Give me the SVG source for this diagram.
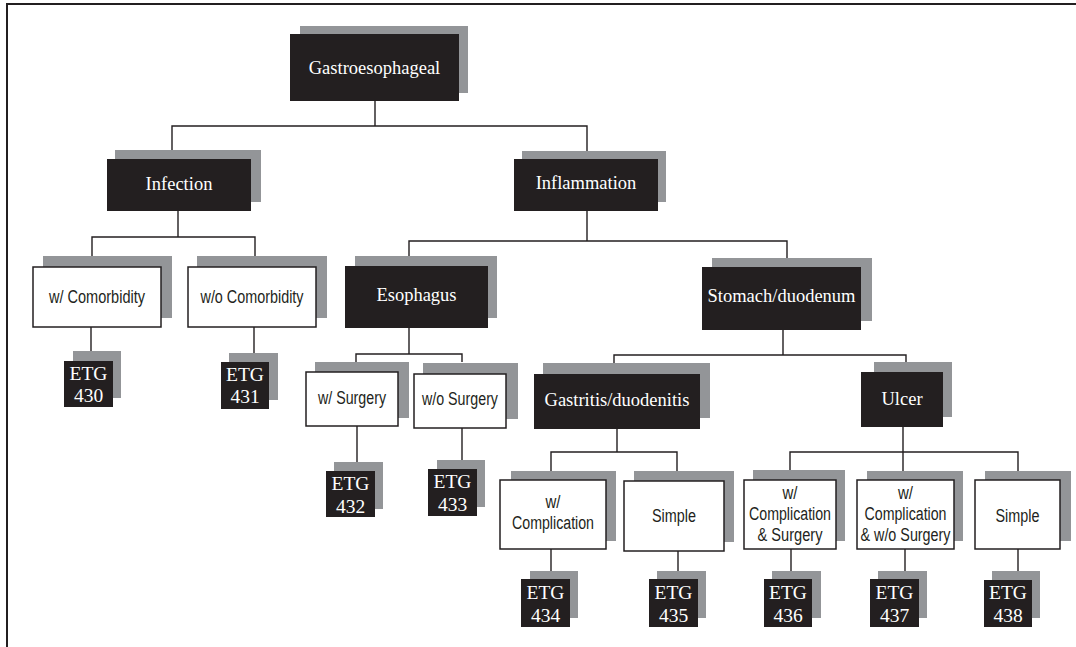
<svg xmlns="http://www.w3.org/2000/svg" width="1076" height="647" viewBox="0 0 1076 647">
<style>
.sh{fill:#939598}
.bk{fill:#231f20}
.wb{fill:#ffffff;stroke:#231f20;stroke-width:1.5}
.tb{font-family:"Liberation Serif","Times New Roman",serif;font-size:18.5px;fill:#ffffff;text-anchor:middle}
.te{font-family:"Liberation Serif","Times New Roman",serif;font-size:19.5px;fill:#ffffff;text-anchor:middle}
.tw{font-family:"Liberation Sans",Arial,sans-serif;font-size:18px;fill:#231f20;text-anchor:middle}
.cn{fill:none;stroke:#231f20;stroke-width:1.4}
</style>
<rect width="1076" height="647" fill="#ffffff"/>
<path d="M7,647 V4 H1076" fill="none" stroke="#231f20" stroke-width="2"/>
<g id="connectors" class="cn">
<path d="M375,101 V126 M172,150 V126 H587 V151"/>
<path d="M178,211 V237 M92,256 V237 H255 V256"/>
<path d="M91,327 V351"/>
<path d="M254,327 V353"/>
<path d="M587,211 V241 M409,256 V241 H787 V258"/>
<path d="M409,328 V354 M356,362 V354 H462 V362"/>
<path d="M357,426 V462"/>
<path d="M462,428 V460"/>
<path d="M783,330 V355 M614,363 V355 H906 V362"/>
<path d="M617,429 V452 M551,471 V452 H677 V471"/>
<path d="M551,549 V571"/>
<path d="M678,551 V571"/>
<path d="M903,427 V471 M790,470 V452 H1018 V471"/>
<path d="M791,549 V571"/>
<path d="M905,549 V571"/>
<path d="M1018,549 V571"/>
</g>
<g id="n-gastro"><rect class="sh" x="300" y="26" width="168" height="67"/><rect class="bk" x="290" y="34" width="169" height="67"/><text class="tb" x="374.5" y="74">Gastroesophageal</text></g>
<g id="n-infection"><rect class="sh" x="115" y="150" width="146" height="52"/><rect class="bk" x="107" y="159" width="144" height="52"/><text class="tb" x="179" y="190">Infection</text></g>
<g id="n-inflammation"><rect class="sh" x="522" y="151" width="144" height="51"/><rect class="bk" x="514" y="159" width="144" height="52"/><text class="tb" x="586" y="189">Inflammation</text></g>
<g id="n-wcomorb"><rect class="sh" x="43" y="256" width="129" height="62"/><rect class="wb" x="33" y="267" width="128" height="60"/><text class="tw" x="97" y="303" textLength="96" lengthAdjust="spacingAndGlyphs">w/ Comorbidity</text></g>
<g id="n-wocomorb"><rect class="sh" x="197" y="256" width="130" height="62"/><rect class="wb" x="188" y="267" width="128" height="60"/><text class="tw" x="252" y="303" textLength="103" lengthAdjust="spacingAndGlyphs">w/o Comorbidity</text></g>
<g id="n-etg430"><rect class="sh" x="73" y="351" width="48" height="47"/><rect class="bk" x="64" y="361" width="49" height="46"/><text class="te" x="88.5" y="380">ETG</text><text class="te" x="88.5" y="402">430</text></g>
<g id="n-etg431"><rect class="sh" x="229" y="353" width="49" height="47"/><rect class="bk" x="221" y="362" width="48" height="47"/><text class="te" x="245" y="381">ETG</text><text class="te" x="245" y="403">431</text></g>
<g id="n-esophagus"><rect class="sh" x="355" y="256" width="142" height="62"/><rect class="bk" x="345" y="266" width="143" height="62"/><text class="tb" x="416.5" y="301">Esophagus</text></g>
<g id="n-stomach"><rect class="sh" x="712" y="258" width="160" height="63"/><rect class="bk" x="702" y="267" width="159" height="63"/><text class="tb" x="781.5" y="302">Stomach/duodenum</text></g>
<g id="n-wsurg"><rect class="sh" x="315" y="362" width="94" height="56"/><rect class="wb" x="306" y="372" width="92" height="54"/><text class="tw" x="352" y="404" textLength="68" lengthAdjust="spacingAndGlyphs">w/ Surgery</text></g>
<g id="n-wosurg"><rect class="sh" x="423" y="363" width="95" height="56"/><rect class="wb" x="414" y="374" width="92" height="54"/><text class="tw" x="460" y="405" textLength="76" lengthAdjust="spacingAndGlyphs">w/o Surgery</text></g>
<g id="n-etg432"><rect class="sh" x="334" y="462" width="49" height="47"/><rect class="bk" x="326" y="471" width="49" height="46"/><text class="te" x="350.5" y="490">ETG</text><text class="te" x="350.5" y="513">432</text></g>
<g id="n-etg433"><rect class="sh" x="437" y="460" width="48" height="47"/><rect class="bk" x="428" y="469" width="49" height="47"/><text class="te" x="452.5" y="488">ETG</text><text class="te" x="452.5" y="511">433</text></g>
<g id="n-gastritis"><rect class="sh" x="543" y="363" width="167" height="55"/><rect class="bk" x="534" y="374" width="166" height="55"/><text class="tb" x="617" y="406">Gastritis/duodenitis</text></g>
<g id="n-ulcer"><rect class="sh" x="874" y="362" width="78" height="55"/><rect class="bk" x="861" y="372" width="82" height="55"/><text class="tb" x="902" y="405">Ulcer</text></g>
<g id="n-wcomp"><rect class="sh" x="511" y="471" width="105" height="70"/><rect class="wb" x="500" y="480" width="106" height="69"/><text class="tw" x="553" y="508" textLength="15" lengthAdjust="spacingAndGlyphs">w/</text><text class="tw" x="553" y="529" textLength="82" lengthAdjust="spacingAndGlyphs">Complication</text></g>
<g id="n-gsimple"><rect class="sh" x="634" y="471" width="100" height="71"/><rect class="wb" x="624" y="481" width="100" height="70"/><text class="tw" x="674" y="522" textLength="44" lengthAdjust="spacingAndGlyphs">Simple</text></g>
<g id="n-wcompsurg"><rect class="sh" x="753" y="470" width="92" height="71"/><rect class="wb" x="744" y="480" width="92" height="69"/><text class="tw" x="790" y="499" textLength="15" lengthAdjust="spacingAndGlyphs">w/</text><text class="tw" x="790" y="520" textLength="82" lengthAdjust="spacingAndGlyphs">Complication</text><text class="tw" x="790" y="541" textLength="65" lengthAdjust="spacingAndGlyphs">&amp; Surgery</text></g>
<g id="n-wcompwosurg"><rect class="sh" x="867" y="471" width="96" height="70"/><rect class="wb" x="857" y="480" width="97" height="69"/><text class="tw" x="905.5" y="499" textLength="15" lengthAdjust="spacingAndGlyphs">w/</text><text class="tw" x="905.5" y="520" textLength="82" lengthAdjust="spacingAndGlyphs">Complication</text><text class="tw" x="905.5" y="541" textLength="90" lengthAdjust="spacingAndGlyphs">&amp; w/o Surgery</text></g>
<g id="n-usimple"><rect class="sh" x="985" y="471" width="86" height="70"/><rect class="wb" x="975" y="480" width="85" height="69"/><text class="tw" x="1017.5" y="522" textLength="44" lengthAdjust="spacingAndGlyphs">Simple</text></g>
<g id="n-etg434"><rect class="sh" x="530" y="571" width="48" height="47"/><rect class="bk" x="521" y="579" width="49" height="48"/><text class="te" x="545.5" y="599">ETG</text><text class="te" x="545.5" y="622">434</text></g>
<g id="n-etg435"><rect class="sh" x="657" y="571" width="49" height="47"/><rect class="bk" x="649" y="579" width="49" height="48"/><text class="te" x="673.5" y="599">ETG</text><text class="te" x="673.5" y="622">435</text></g>
<g id="n-etg436"><rect class="sh" x="772" y="571" width="49" height="47"/><rect class="bk" x="764" y="579" width="48" height="48"/><text class="te" x="788" y="599">ETG</text><text class="te" x="788" y="622">436</text></g>
<g id="n-etg437"><rect class="sh" x="878" y="571" width="49" height="47"/><rect class="bk" x="870" y="579" width="49" height="48"/><text class="te" x="894.5" y="599">ETG</text><text class="te" x="894.5" y="622">437</text></g>
<g id="n-etg438"><rect class="sh" x="992" y="571" width="48" height="47"/><rect class="bk" x="984" y="580" width="48" height="47"/><text class="te" x="1008" y="599">ETG</text><text class="te" x="1008" y="622">438</text></g>
</svg>
